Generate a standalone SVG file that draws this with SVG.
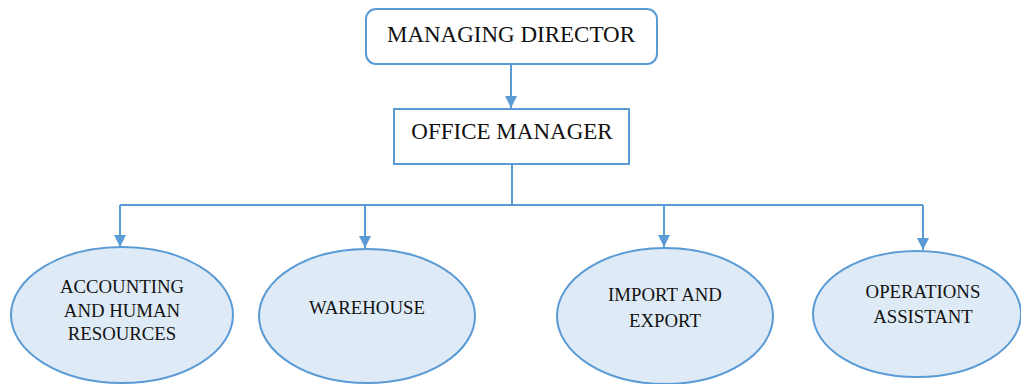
<svg xmlns="http://www.w3.org/2000/svg" width="1021" height="384" viewBox="0 0 1021 384">
<defs>
<marker id="ah" viewBox="0 0 10 10" refX="10" refY="5" markerWidth="12" markerHeight="12" markerUnits="userSpaceOnUse" orient="auto">
<path d="M0,0 L10,5 L0,10 z" fill="#5b9bd5"/>
</marker>
</defs>
<rect width="1021" height="384" fill="#ffffff"/>
<g id="connectors" fill="none" stroke="#5b9bd5" stroke-width="2">
<path d="M511,64 V108" marker-end="url(#ah)"/>
<path d="M512,164 V205"/>
<path d="M120,205 H923"/>
<path d="M120,205 V247" marker-end="url(#ah)"/>
<path d="M365,205 V248" marker-end="url(#ah)"/>
<path d="M664,205 V247" marker-end="url(#ah)"/>
<path d="M923,205 V250" marker-end="url(#ah)"/>
</g>
<g font-family="Liberation Serif" fill="#111" text-anchor="middle" stroke-width="2">
<g id="managing-director">
<rect x="366" y="9" width="291" height="55" rx="10" fill="#ffffff" stroke="#5b9bd5"/>
<text x="511" y="42" font-size="23">MANAGING DIRECTOR</text>
</g>
<g id="office-manager">
<rect x="394" y="109" width="235" height="55" fill="#ffffff" stroke="#5b9bd5"/>
<text x="512" y="139" font-size="23">OFFICE MANAGER</text>
</g>
<g id="accounting">
<ellipse cx="122" cy="315" rx="111" ry="68" fill="#deebf7" stroke="#5b9bd5"/>
<text x="122" y="293" font-size="18.8">ACCOUNTING</text>
<text x="122" y="317" font-size="18.8">AND HUMAN</text>
<text x="122" y="340" font-size="18.8">RESOURCES</text>
</g>
<g id="warehouse">
<ellipse cx="367" cy="316" rx="108" ry="67" fill="#deebf7" stroke="#5b9bd5"/>
<text x="367" y="314" font-size="18.8">WAREHOUSE</text>
</g>
<g id="import-export">
<ellipse cx="665" cy="316" rx="108" ry="68" fill="#deebf7" stroke="#5b9bd5"/>
<text x="665" y="301" font-size="18.8">IMPORT AND</text>
<text x="665" y="327" font-size="18.8">EXPORT</text>
</g>
<g id="operations-assistant">
<ellipse cx="917" cy="314" rx="104" ry="63" fill="#deebf7" stroke="#5b9bd5"/>
<text x="923" y="298" font-size="18.8">OPERATIONS</text>
<text x="923" y="323" font-size="18.8">ASSISTANT</text>
</g>
</g>
</svg>
